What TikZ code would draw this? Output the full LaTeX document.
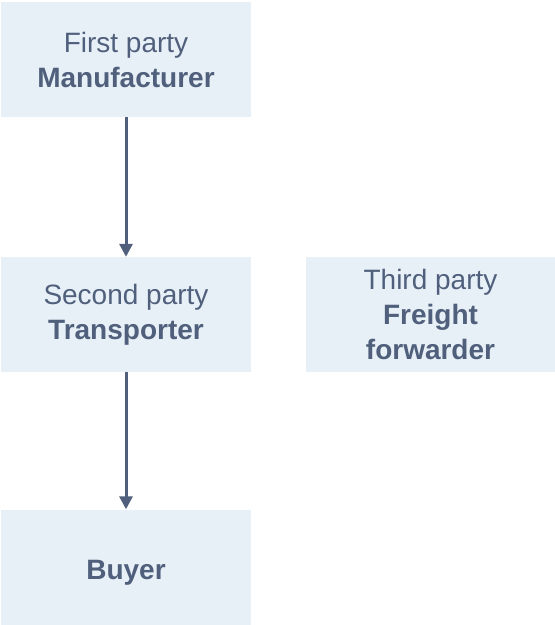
\documentclass[tikz,border=0pt]{standalone}
\usepackage{fontspec}
\setmainfont{Liberation Sans}
\usetikzlibrary{arrows.meta}
\definecolor{boxblue}{RGB}{232,240,247}
\definecolor{inkblue}{RGB}{80,96,124}

\begin{document}
\begin{tikzpicture}[x=1pt, y=-1pt,
  party/.style={fill=boxblue, minimum width=250pt, minimum height=115pt, inner sep=0pt,
    align=center, text=inkblue, font=\fontsize{28}{35}\selectfont},
  flow/.style={-{Triangle[width=13pt,length=13pt]}, draw=inkblue, line width=3pt}]

\useasboundingbox (0,0) rectangle (555,625);

\node (first) at (126, 59.5) [party] {First party\\\textbf{Manufacturer}};
\node (second) at (126, 314.5) [party] {Second party\\\textbf{Transporter}};
\node (third) at (430.5, 314.5) [party, minimum width=249pt] {Third party\\\textbf{Freight}\\\textbf{forwarder}};
\node (buyer) at (126, 567) [party, text depth=0pt, text height=24pt] {\textbf{Buyer}};

\draw [flow] (first) -- (second);
\draw [flow] (second) -- (buyer);

\end{tikzpicture}
\end{document}
